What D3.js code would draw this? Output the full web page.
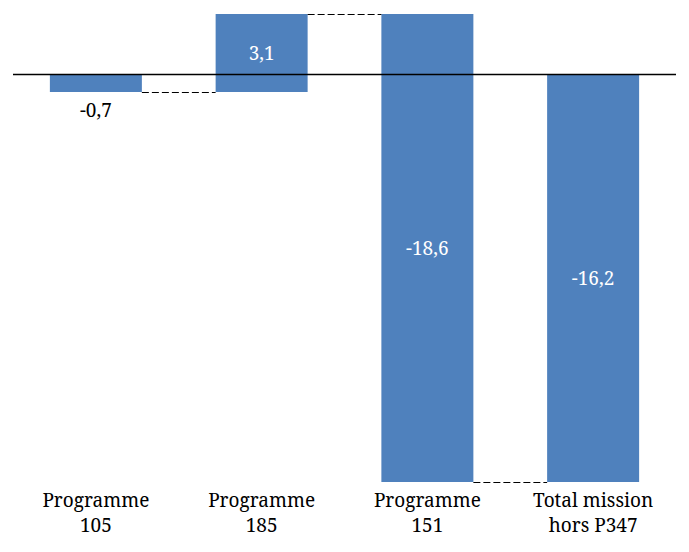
<!DOCTYPE html>
<html>
<head>
<meta charset="utf-8">
<script src="https://cdn.jsdelivr.net/npm/d3@7"></script>
<style>
  body { margin: 0; background: #fff; }
</style>
</head>
<body>
<div class="chart"></div>
<script>
var svgWidth = 689;
var svgHeight = 552;
var fontFam = "'Noto Serif', 'Liberation Serif', serif";

// waterfall data
var categories = [["Programme", "105"], ["Programme", "185"], ["Programme", "151"], ["Total mission", "hors P347"]];
var values = [-0.7, 3.1, -18.6, -16.2];
var isTotal = [false, false, false, true];

// compute start/end of each bar
var running = 0;
var bars = values.map(function (v, i) {
  var start, end;
  if (isTotal[i]) {
    start = 0; end = v;
  } else {
    start = running; end = running + v;
  }
  running = end;
  return { cat: categories[i], value: v, start: start, end: end };
});

var svg = d3.select(".chart")
  .append("svg")
  .attr("width", svgWidth)
  .attr("height", svgHeight)
  .style("font-family", fontFam);

var x_scale = d3.scaleBand()
  .domain(d3.range(bars.length))
  .range([13, 676])
  .paddingInner(0.445)
  .paddingOuter(0.2225);

var yMax = d3.max(bars, d => Math.max(d.start, d.end));
var yMin = d3.min(bars, d => Math.min(d.start, d.end));
var y_scale = d3.scaleLinear()
  .domain([yMin, yMax])
  .range([482, 14]);

// bars
svg.selectAll("rect.bar")
  .data(bars)
  .enter()
  .append("rect")
  .attr("class", "bar")
  .attr("x", (d, i) => x_scale(i))
  .attr("width", x_scale.bandwidth())
  .attr("y", d => y_scale(Math.max(d.start, d.end)))
  .attr("height", d => Math.abs(y_scale(d.start) - y_scale(d.end)))
  .attr("fill", "#4f81bd");

// zero line
svg.append("line")
  .attr("x1", 13)
  .attr("x2", 676)
  .attr("y1", Math.round(y_scale(0)) + 0.5)
  .attr("y2", Math.round(y_scale(0)) + 0.5)
  .attr("stroke", "#000")
  .attr("stroke-width", 1.3);

// connectors
for (var i = 0; i < bars.length - 1; i++) {
  var yc = Math.round(y_scale(bars[i].end)) + 0.5;
  svg.append("line")
    .attr("x1", x_scale(i) + x_scale.bandwidth())
    .attr("x2", x_scale(i + 1))
    .attr("y1", yc)
    .attr("y2", yc)
    .attr("stroke", "#000")
    .attr("stroke-width", 1)
    .attr("stroke-dasharray", "7,3");
}

// value labels
var fmt = v => d3.format(".1f")(v).replace(".", ",").replace("−", "-");
svg.selectAll("text.val")
  .data(bars)
  .enter()
  .append("text")
  .attr("class", "val")
  .attr("font-family", fontFam)
  .attr("x", (d, i) => x_scale(i) + x_scale.bandwidth() / 2)
  .attr("y", function (d) {
    var h = Math.abs(y_scale(d.start) - y_scale(d.end));
    if (h < 30) return y_scale(Math.min(d.start, d.end)) + 25;
    return (y_scale(d.start) + y_scale(d.end)) / 2 + 7;
  })
  .attr("text-anchor", "middle")
  .attr("font-size", "19px")
  .attr("fill", function (d) {
    var h = Math.abs(y_scale(d.start) - y_scale(d.end));
    return h < 30 ? "#000" : "#fff";
  })
  .text(d => fmt(d.value));

// category labels
var catG = svg.selectAll("text.cat")
  .data(bars)
  .enter()
  .append("text")
  .attr("class", "cat")
  .attr("font-family", fontFam)
  .attr("text-anchor", "middle")
  .attr("font-size", "19px")
  .attr("fill", "#000");

catG.selectAll("tspan")
  .data((d, i) => d.cat.map(t => ({ t: t, i: i })))
  .enter()
  .append("tspan")
  .attr("x", d => x_scale(d.i) + x_scale.bandwidth() / 2)
  .attr("y", (d, j) => 507 + j * 25)
  .text(d => d.t);
</script>
</body>
</html>
